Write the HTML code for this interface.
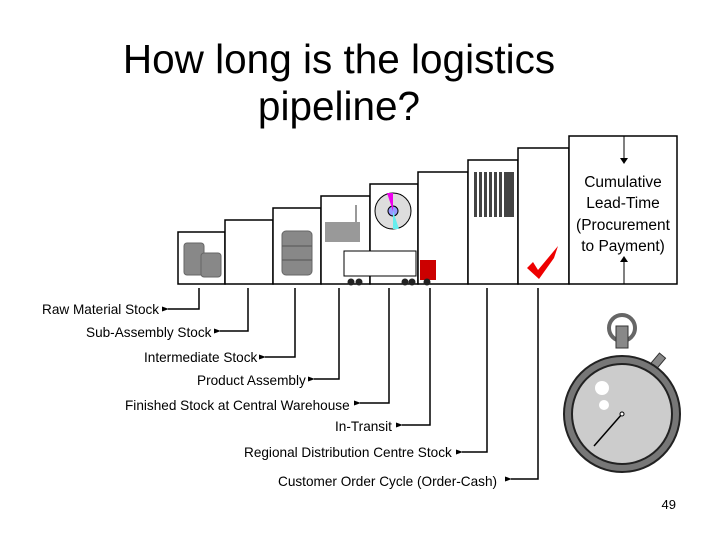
<!DOCTYPE html>
<html><head><meta charset="utf-8"><style>
body{margin:0;background:#fff}
svg{display:block;font-family:"Liberation Sans",Arial,sans-serif}
</style></head><body>
<svg width="720" height="540" viewBox="0 0 720 540" xmlns="http://www.w3.org/2000/svg">
<defs><marker id="a" markerUnits="userSpaceOnUse" markerWidth="7" markerHeight="5" refX="1" refY="2.5" orient="auto"><path d="M7,0 L0,2.5 L7,5z" fill="#000"/></marker></defs>
<text x="339" y="73" font-size="40.5" text-anchor="middle">How long is the logistics</text>
<text x="339" y="120" font-size="40.5" text-anchor="middle">pipeline?</text>
<g fill="#fff" stroke="#000" stroke-width="1.5">
<rect x="178" y="232" width="47" height="52"/>
<rect x="225" y="220" width="48" height="64"/>
<rect x="273" y="208" width="48" height="76"/>
<rect x="321" y="196" width="49" height="88"/>
<rect x="370" y="184" width="48" height="100"/>
<rect x="418" y="172" width="50" height="112"/>
<rect x="468" y="160" width="50" height="124"/>
<rect x="518" y="148" width="51" height="136"/>
<rect x="569" y="136" width="108" height="148"/>
</g>
<g fill="#888" stroke="#666"><rect x="184" y="243" width="20" height="32" rx="3"/><rect x="201" y="253" width="20" height="24" rx="3"/><rect x="282" y="231" width="30" height="44" rx="4"/></g>
<g stroke="#555"><line x1="282" y1="246" x2="312" y2="246"/><line x1="282" y1="260" x2="312" y2="260"/></g>
<rect x="325" y="222" width="35" height="20" fill="#999"/><rect x="355" y="205" width="2" height="20" fill="#999"/>
<circle cx="393" cy="211" r="18" fill="#ddd" stroke="#000"/><circle cx="393" cy="211" r="5" fill="#99f" stroke="#000"/>
<path d="M393,211 L387,193 L393,193z" fill="#e0e"/><path d="M393,211 L399,229 L393,229z" fill="#6ee"/>
<g fill="#444"><rect x="474" y="172" width="3" height="45"/><rect x="479" y="172" width="3" height="45"/><rect x="484" y="172" width="3" height="45"/><rect x="489" y="172" width="3" height="45"/><rect x="494" y="172" width="3" height="45"/><rect x="499" y="172" width="3" height="45"/><rect x="504" y="172" width="10" height="45"/></g>
<rect x="344" y="251" width="72" height="25" fill="#fff" stroke="#000"/>
<rect x="420" y="260" width="16" height="20" fill="#c00"/>
<g fill="#222"><circle cx="351" cy="282" r="3.5"/><circle cx="359" cy="282" r="3.5"/><circle cx="405" cy="282" r="3.5"/><circle cx="412" cy="282" r="3.5"/><circle cx="427" cy="282" r="3.5"/></g>
<path d="M527,268 L533,262 L538,270 L558,246 L554,258 L539,279z" fill="#e00"/>
<text x="623" y="187" font-size="15.5" text-anchor="middle">Cumulative</text>
<text x="623" y="208" font-size="15.5" text-anchor="middle">Lead-Time</text>
<text x="623" y="230" font-size="15.5" text-anchor="middle">(Procurement</text>
<text x="623" y="251" font-size="15.5" text-anchor="middle">to Payment)</text>
<line x1="624" y1="136" x2="624" y2="160" stroke="#000"/><path d="M620,158 L628,158 L624,164z"/>
<line x1="624" y1="284" x2="624" y2="260" stroke="#000"/><path d="M620,262 L628,262 L624,256z"/>
<g fill="none" stroke="#000" stroke-width="1.5" marker-end="url(#a)">
<polyline points="199,288 199,309 168,309"/>
<polyline points="248,288 248,331 220,331"/>
<polyline points="295,288 295,357 265,357"/>
<polyline points="339,288 339,379 314,379"/>
<polyline points="389,288 389,403 360,403"/>
<polyline points="430,288 430,425 402,425"/>
<polyline points="487,288 487,452 462,452"/>
<polyline points="538,288 538,479 511,479"/>
</g>
<g font-size="13.6">
<text x="42" y="314">Raw Material Stock</text>
<text x="86" y="337">Sub-Assembly Stock</text>
<text x="144" y="362">Intermediate Stock</text>
<text x="197" y="385">Product Assembly</text>
<text x="125" y="410">Finished Stock at Central Warehouse</text>
<text x="335" y="431">In-Transit</text>
<text x="244" y="457">Regional Distribution Centre Stock</text>
<text x="278" y="486">Customer Order Cycle (Order-Cash)</text>
</g>
<circle cx="622" cy="328" r="13" fill="none" stroke="#666" stroke-width="4"/>
<rect x="616" y="326" width="12" height="22" fill="#888" stroke="#333"/>
<rect x="654" y="354" width="8" height="14" fill="#888" stroke="#333" transform="rotate(40 658 361)"/>
<circle cx="622" cy="414" r="58" fill="#777" stroke="#222" stroke-width="2"/>
<circle cx="622" cy="414" r="50" fill="#ccc" stroke="#222" stroke-width="2"/>
<circle cx="602" cy="388" r="7" fill="#fff"/><circle cx="604" cy="405" r="5" fill="#fff"/>
<line x1="622" y1="414" x2="594" y2="446" stroke="#000" stroke-width="1.5"/>
<circle cx="622" cy="414" r="2" fill="#fff" stroke="#000"/>
<text x="676" y="509" font-size="13" text-anchor="end">49</text>
</svg>
</body></html>
